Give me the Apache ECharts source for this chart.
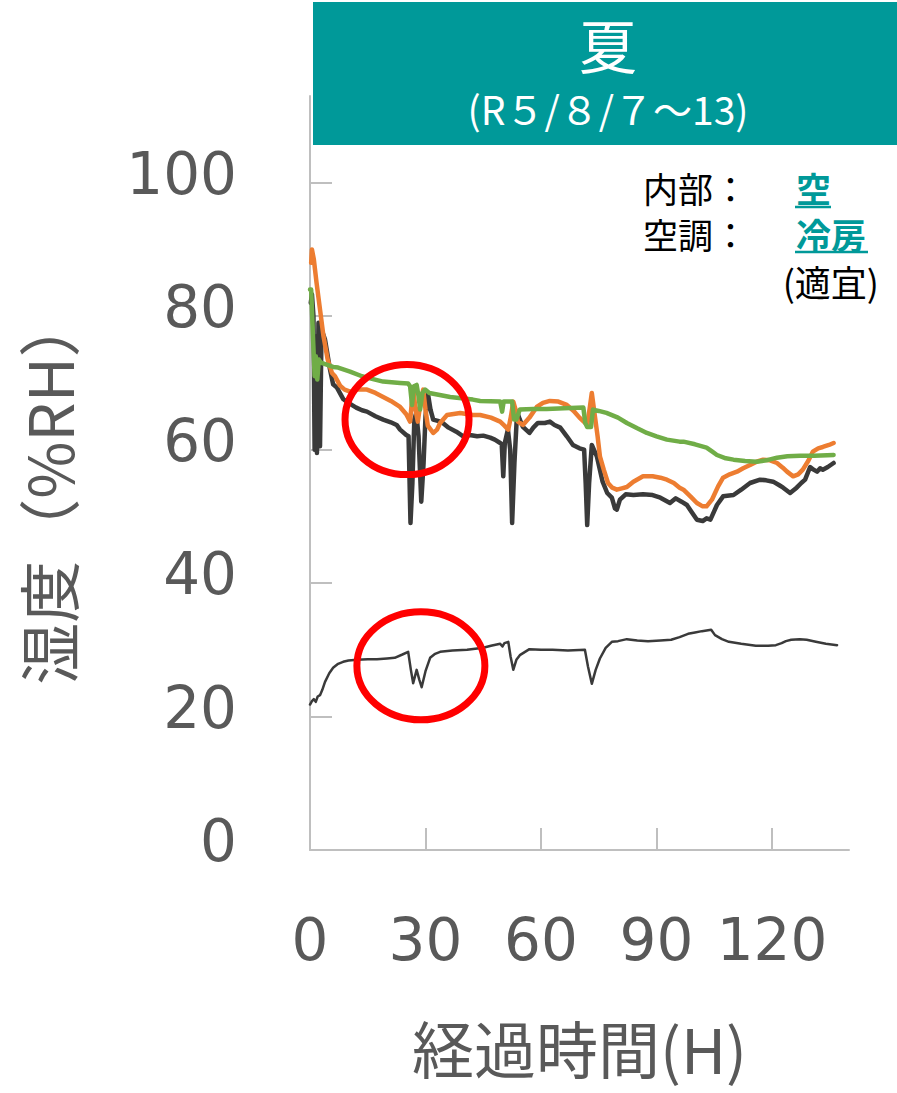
<!DOCTYPE html>
<html>
<head>
<meta charset="utf-8">
<style>
  html, body { margin: 0; padding: 0; background: #fff; }
  #chart { width: 897px; height: 1093px; }
</style>
<script src="https://cdn.jsdelivr.net/npm/echarts@6/dist/echarts.min.js"></script>
</head>
<body>
<div id="chart"></div>
<script>
  // 経過時間(H) と 湿度(%RH) を図から読み取った値
  const xTicks = [0, 30, 60, 90, 120]
  const yTicks = [0, 20, 40, 60, 80, 100]

  const blackUpper = [
    [0.2, 82], [0.5, 83.3], [0.9, 80], [1.2, 60], [1.5, 77], [1.8, 59.5], [2.2, 79], [2.6, 60.5],
    [3.0, 78], [3.9, 76.5], [5.2, 72], [6, 69.8], [7, 69.3], [8.6, 67.6], [10, 67], [12, 66.3],
    [13.5, 65.9], [14.8, 65.7], [17, 65], [19, 64.5], [21, 64.1], [22.5, 63.7], [23.4, 63], [25, 62.2],
    [25.6, 62], [26.1, 49], [26.6, 55], [27.1, 64.5], [27.6, 65.5], [28.2, 62], [28.9, 52.2], [29.5, 58],
    [30, 65], [30.6, 68.5], [31.3, 66], [32, 64.5], [33.2, 64.3], [34.5, 64], [36, 63.3], [38, 62.7],
    [39.8, 62], [41.5, 62.2], [43.4, 62], [45, 62.1], [46.8, 61.8], [48, 61.5], [49.4, 61], [49.8, 60.8],
    [50.2, 56], [50.6, 61], [51.4, 63], [52, 60], [52.5, 49], [53.1, 58], [53.8, 65.7], [54.5, 64.5],
    [55.3, 63.4], [57, 62.5], [58, 63.3], [59.2, 64], [61, 64], [62.3, 64.2], [63.5, 63.7], [65, 63.3],
    [66.7, 62], [68.3, 60.7], [70, 60.2], [71.2, 60], [71.6, 55], [72, 48.7], [72.5, 55], [73.2, 60.7],
    [74.5, 59], [76, 55.2], [77.2, 53.5], [78.4, 52.8], [79.2, 51.2], [79.7, 51], [80.5, 52.5], [82, 53.3],
    [84, 53.2], [86.5, 53.3], [89, 53.2], [91, 52.8], [93.5, 52], [95, 52.7], [96.5, 52.2], [97.9, 51.7],
    [99.3, 50.5], [100.5, 49.5], [102, 49.3], [103, 49.7], [104, 49.5], [105.7, 51.7], [107.3, 53], [110, 53.2],
    [112, 54], [114.3, 55], [116.9, 55.5], [118.5, 55.4], [120.3, 55.2], [121.8, 54.7], [122.9, 54.3], [124.7, 53.5],
    [126.4, 54.3], [127.6, 55], [128.6, 55.5], [129.9, 57.4], [130.8, 57], [131.7, 56.7], [132.5, 57.2], [133.2, 57],
    [134.5, 57.4], [136, 58]
  ]

  const orange = [
    [0.3, 88], [0.5, 90], [1.0, 88.5], [1.7, 85], [2.6, 81], [3.5, 77], [4.6, 73.5], [5.7, 71.5],
    [6.5, 71], [7.8, 69.6], [9, 69], [10.4, 68.7], [12, 69], [14.8, 69], [17, 68.5], [19, 67.9],
    [21, 67.3], [23.4, 66.4], [25, 65.3], [26, 64.2], [26.8, 69.4], [27.4, 66], [28, 64.2], [28.7, 67],
    [29.4, 69], [30, 66], [30.6, 63.6], [32, 62.5], [33, 63], [33.8, 64], [35.6, 65.2], [39, 65.5],
    [42.3, 65.2], [44.2, 65.2], [47, 64.8], [49.4, 64.2], [50.5, 63.6], [51.5, 63], [52.2, 65], [52.8, 67.2],
    [53.4, 66], [54, 64.2], [55.3, 63.7], [57, 64.8], [58.9, 66.4], [60.5, 67], [62.3, 67.3], [64.5, 67.2],
    [66.7, 66.7], [68.5, 65.8], [70, 64.8], [72, 63.7], [72.6, 66], [73.2, 68.5], [74, 65], [74.7, 62],
    [75.3, 59], [76.3, 57], [77.4, 55], [78.5, 54.3], [79.7, 54], [81, 54.2], [82.3, 54.4], [84, 55.2],
    [86.5, 56], [89, 56], [91, 55.8], [92.7, 55.5], [94.5, 55], [96, 54.3], [97, 54], [98.8, 53],
    [100.5, 52], [102, 51.5], [103, 51.5], [104.4, 52.5], [106, 54.5], [107.3, 55.8], [109, 56.3], [110.9, 56.7],
    [112.5, 57.2], [114.3, 57.7], [116, 58.2], [117.7, 58.5], [119.5, 58.4], [121.3, 58], [122.8, 57.3], [123.9, 56.7],
    [125.5, 56], [126.8, 56.3], [128, 57], [129.4, 58.3], [130.6, 59.7], [132, 60.2], [133.2, 60.4], [134.8, 60.7],
    [136, 61]
  ]

  const green = [
    [0, 84], [0.3, 84], [0.8, 76.5], [1.2, 71], [1.5, 74], [1.9, 70.5], [2.3, 73.5], [2.6, 73.2],
    [3, 73], [6, 72.4], [7.3, 72.3], [10.4, 71.7], [13.5, 71], [14.8, 70.8], [19, 70.2], [23.4, 70],
    [25.5, 69.9], [26, 69.5], [26.5, 66.7], [27, 69.5], [27.7, 69.7], [28.2, 68], [28.6, 66], [29.2, 68.5],
    [29.9, 69], [31, 68.5], [36.4, 67.9], [42.3, 67.5], [44.2, 67.3], [49.4, 67.2], [49.9, 65.7], [50.3, 67.2],
    [52.5, 67.2], [53, 64.5], [53.6, 64.5], [54.5, 66], [58, 66.1], [61.5, 66.1], [66, 66.2], [71, 66.3],
    [71.5, 64], [72, 63.4], [73, 63.4], [73.5, 66], [75, 65.8], [77, 65.5], [80, 64.8], [82.3, 64],
    [85, 63.2], [87.5, 62.5], [90, 62], [92.7, 61.5], [96, 61.2], [97, 61.2], [100, 60.8], [103, 60.3],
    [104.5, 59.7], [105.7, 59.2], [108, 58.7], [110, 58.5], [113, 58.3], [116, 58.2], [118.5, 58.4], [121.3, 58.8],
    [124, 59], [127.3, 59.1], [131, 59.1], [136, 59.2]
  ]

  const blackLower = [
    [0, 21.8], [0.5, 22.3], [1, 22.6], [1.5, 22.2], [2, 23], [2.6, 23.2], [3.2, 24], [3.9, 25.2],
    [5, 26.5], [6, 27.3], [7.3, 27.9], [8.6, 28.2], [10, 28.4], [12.2, 28.5], [15, 28.6], [17.4, 28.6],
    [20, 28.7], [22, 28.8], [24, 29.3], [25.5, 29.7], [26.2, 27], [26.8, 25], [27.7, 27], [28.4, 25.5],
    [29, 24.4], [30, 26.8], [31.2, 28.8], [32.5, 29.4], [33.8, 29.7], [37, 29.9], [40.8, 30], [45, 30.3],
    [47, 30.6], [49.4, 30.9], [50, 30.5], [50.5, 31], [51.5, 31.2], [52.1, 29], [52.8, 27], [53.6, 28.5],
    [54.5, 29.2], [57, 30.1], [60, 30], [63, 30], [67, 29.9], [71.4, 30], [72.2, 27.5], [73.2, 24.9],
    [74.2, 27], [75.3, 28.7], [76.8, 30.3], [78.4, 31.2], [80, 31.3], [82.3, 31.6], [85, 31.4], [87.8, 31.3],
    [91, 31.4], [93.8, 31.5], [96, 31.9], [98.2, 32.4], [100, 32.6], [101.8, 32.8], [104.2, 33], [105.2, 32.2],
    [107, 31.6], [108.8, 31.2], [112, 30.9], [115.8, 30.6], [119, 30.6], [121, 30.7], [122.5, 31], [123.6, 31.3],
    [125, 31.5], [127.2, 31.6], [129, 31.5], [131.4, 31.2], [134, 30.9], [136.9, 30.7]
  ]

  // 赤丸の中心 [時間, 湿度] と半径(px)
  const circles = [
    { at: [25.2, 64.5], rx: 62, ry: 55 },
    { at: [28.8, 27.6], rx: 64, ry: 54 }
  ]

  const axisGray = '#bfbfbf'
  const textGray = '#595959'
  const teal = '#009999'
  const numFont = 'DejaVu Sans'
  const jpFont = 'Noto Sans CJK JP'

  const chart = echarts.init(document.getElementById('chart'), null, { renderer: 'svg' })

  function lineSeries(data, color, width) {
    return {
      type: 'line',
      data: data,
      showSymbol: false,
      symbol: 'none',
      lineStyle: { color: color, width: width, join: 'round', cap: 'round' },
      itemStyle: { color: color },
      animation: false
    }
  }

  chart.setOption({
    animation: false,
    grid: { left: 310, right: 48, top: 96, bottom: 243 },
    xAxis: {
      type: 'value',
      min: 0,
      max: 140,
      interval: 30,
      axisLine: { show: true, lineStyle: { color: axisGray, width: 2 } },
      axisTick: { show: true, inside: true, length: 22, lineStyle: { color: axisGray, width: 2 }, customValues: [30, 60, 90, 120] },
      axisLabel: { customValues: xTicks, fontSize: 58, color: textGray, fontFamily: numFont, margin: 61 },
      splitLine: { show: false },
      name: '経過時間(H)',
      nameLocation: 'middle',
      nameGap: 166,
      nameTextStyle: { fontSize: 62, color: textGray, fontFamily: jpFont }
    },
    yAxis: {
      type: 'value',
      min: 0,
      max: 113,
      interval: 20,
      axisLine: { show: true, lineStyle: { color: axisGray, width: 2 } },
      axisTick: { show: true, inside: true, length: 22, lineStyle: { color: axisGray, width: 2 }, customValues: yTicks },
      axisLabel: { customValues: yTicks, fontSize: 58, color: textGray, fontFamily: numFont, margin: 73, verticalAlign: 'bottom', lineHeight: 18 },
      splitLine: { show: false },
      name: '湿度（%RH）',
      nameLocation: 'middle',
      nameRotate: 90,
      nameGap: 232,
      nameTextStyle: { fontSize: 62, color: textGray, fontFamily: jpFont, padding: [0, 34, 0, 0] }
    },
    series: [
      lineSeries(blackLower, '#3a3a3a', 2.5),
      lineSeries(blackUpper, '#3a3a3a', 4.5),
      lineSeries(orange, '#ed7d31', 4.5),
      lineSeries(green, '#70ad47', 4.5)
    ]
  })

  // 注記: タイトル帯、条件表示、赤丸
  const ellipses = circles.map(function (c) {
    const p = chart.convertToPixel({ gridIndex: 0 }, c.at)
    return {
      type: 'ellipse',
      shape: { cx: p[0], cy: p[1], rx: c.rx, ry: c.ry },
      style: { fill: 'none', stroke: '#ff0000', lineWidth: 7 },
      z: 100
    }
  })

  chart.setOption({
    graphic: [
      { type: 'rect', shape: { x: 313, y: 2, width: 584, height: 143 }, style: { fill: teal }, z: 50 },
      { type: 'text', x: 608, y: 44, style: { text: '夏', fill: '#fff', font: '58px "Noto Sans CJK JP"', align: 'center', verticalAlign: 'middle' }, z: 51 },
      { type: 'text', x: 608, y: 108, style: { text: '(R５/８/７～13)', fill: '#fff', font: '39px "Noto Sans CJK JP"', align: 'center', verticalAlign: 'middle' }, z: 51 },
      { type: 'text', x: 643, y: 187, style: { text: '内部：', fill: '#000', font: '35px "Noto Sans CJK JP"', lineHeight: 36, align: 'left', verticalAlign: 'middle' }, z: 51 },
      { type: 'text', x: 643, y: 233, style: { text: '空調：', fill: '#000', font: '35px "Noto Sans CJK JP"', lineHeight: 36, align: 'left', verticalAlign: 'middle' }, z: 51 },
      { type: 'text', x: 796, y: 187, style: { text: '空', fill: teal, font: 'bold 35px "Noto Sans CJK JP"', lineHeight: 36, align: 'left', verticalAlign: 'middle' }, z: 51 },
      { type: 'text', x: 796, y: 233, style: { text: '冷房', fill: teal, font: 'bold 35px "Noto Sans CJK JP"', lineHeight: 36, align: 'left', verticalAlign: 'middle' }, z: 51 },
      { type: 'line', shape: { x1: 795, y1: 207, x2: 831, y2: 207 }, style: { stroke: teal, lineWidth: 2.5 }, z: 51 },
      { type: 'line', shape: { x1: 795, y1: 252, x2: 868, y2: 252 }, style: { stroke: teal, lineWidth: 2.5 }, z: 51 },
      { type: 'text', x: 879, y: 281, style: { text: '(適宜)', fill: '#000', font: '36px "Noto Sans CJK JP"', lineHeight: 36, align: 'right', verticalAlign: 'middle' }, z: 51 }
    ].concat(ellipses)
  })
</script>
</body>
</html>
